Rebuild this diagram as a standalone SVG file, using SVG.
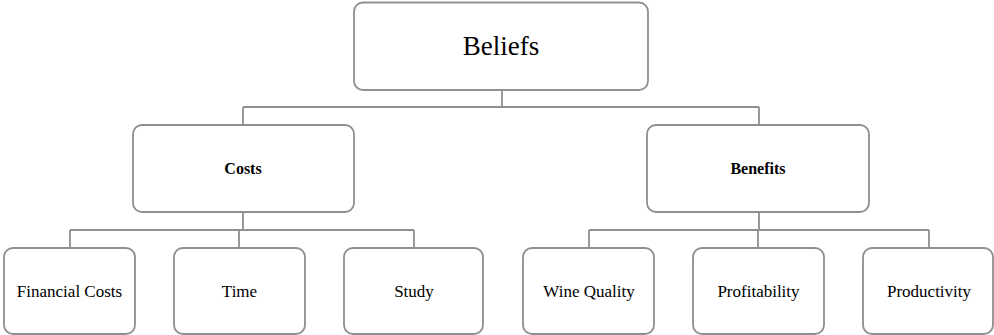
<svg xmlns="http://www.w3.org/2000/svg" width="994" height="335" viewBox="0 0 994 335">
<style>
.box{fill:#fff;stroke:#8f8f8f;stroke-width:1.8}
.con{fill:none;stroke:#8f8f8f;stroke-width:1.8}
.t1{font-size:27px}
.t2{font-size:16px;font-weight:bold}
.t3{font-size:17px}
</style>
<rect width="994" height="335" fill="#fff"/>
<g id="connectors">
<path class="con" d="M502 90V107M243 107H759M243 107V125M759 107V125"/>
<path class="con" d="M243 212V230M70 230H414M70 230V248M239 230V248M414 230V248"/>
<path class="con" d="M759 212V230M589 230H929M589 230V248M758 230V248M929 230V248"/>
</g>
<g font-family="Liberation Serif, Tinos, DejaVu Serif, serif" text-anchor="middle" fill="#000">
<g id="beliefs"><rect class="box" x="354" y="2.5" width="294" height="87.5" rx="9"/><text class="t1" x="501" y="55">Beliefs</text></g>
<g id="costs"><rect class="box" x="133" y="125" width="221" height="87" rx="9"/><text class="t2" x="243" y="174">Costs</text></g>
<g id="benefits"><rect class="box" x="647" y="125" width="222" height="87" rx="9"/><text class="t2" x="758" y="174">Benefits</text></g>
<g id="financial"><rect class="box" x="4" y="248" width="131" height="86" rx="9"/><text class="t3" x="69.5" y="297">Financial Costs</text></g>
<g id="time"><rect class="box" x="174" y="248" width="131" height="86" rx="9"/><text class="t3" x="239.5" y="297">Time</text></g>
<g id="study"><rect class="box" x="344" y="248" width="139" height="86" rx="9"/><text class="t3" x="414" y="297">Study</text></g>
<g id="wine"><rect class="box" x="523" y="248" width="131" height="86" rx="9"/><text class="t3" x="589" y="297">Wine Quality</text></g>
<g id="profit"><rect class="box" x="693" y="248" width="131" height="86" rx="9"/><text class="t3" x="758.5" y="297">Profitability</text></g>
<g id="product"><rect class="box" x="863" y="248" width="130" height="86" rx="9"/><text class="t3" x="929" y="297">Productivity</text></g>
</g>
</svg>
